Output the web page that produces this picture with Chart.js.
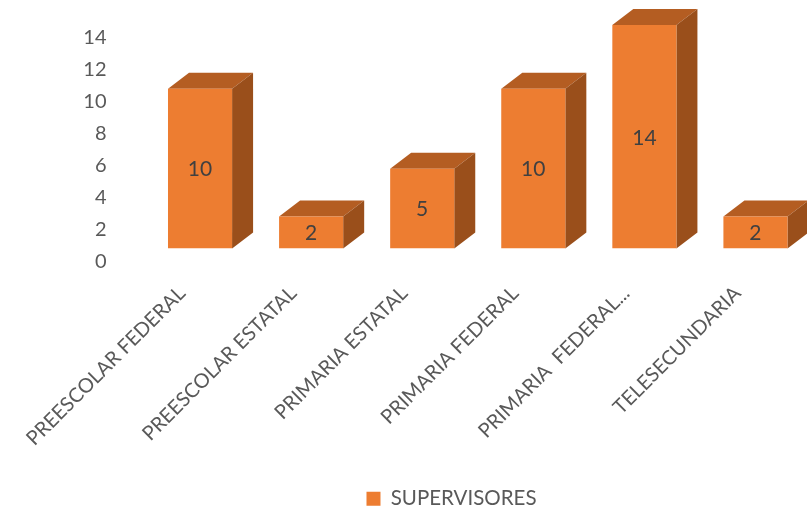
<!DOCTYPE html>
<html>
<head>
<meta charset="utf-8">
<style>html,body{margin:0;padding:0;background:#fff;overflow:hidden;width:807px;height:513px}canvas{display:block}</style>
<script src="https://cdn.jsdelivr.net/npm/chart.js@4/dist/chart.umd.min.js"></script>
</head>
<body>
<canvas id="c" width="811" height="513"></canvas>
<script>
const categories = ["PREESCOLAR FEDERAL","PREESCOLAR ESTATAL","PRIMARIA ESTATAL","PRIMARIA FEDERAL","PRIMARIA  FEDERAL...","TELESECUNDARIA"];
const supervisores = [10,2,5,10,14,2];
const seriesName = "SUPERVISORES";

const FRONT = "#ED7D31", TOP = "#B45D22", SIDE = "#9A4F1B";
const DX = 21, DY = 16;

const bars3d = {
  id: "bars3d",
  afterLayout(chart) {
    chart.legend.left += 46;
    chart.legend.right += 46;
    chart.legend.top += 6;
    chart.legend.bottom += 6;
  },
  beforeDatasetsDraw(chart) {
    const ctx = chart.ctx;
    chart.getDatasetMeta(0).data.forEach(b => {
      const l = b.x - b.width / 2, r = b.x + b.width / 2, t = b.y, bt = b.base;
      ctx.fillStyle = TOP;
      ctx.beginPath();
      ctx.moveTo(l, t); ctx.lineTo(l + DX, t - DY); ctx.lineTo(r + DX, t - DY); ctx.lineTo(r, t);
      ctx.closePath(); ctx.fill();
      ctx.fillStyle = SIDE;
      ctx.beginPath();
      ctx.moveTo(r, t); ctx.lineTo(r + DX, t - DY); ctx.lineTo(r + DX, bt - DY); ctx.lineTo(r, bt);
      ctx.closePath(); ctx.fill();
    });
  },
  afterDatasetsDraw(chart) {
    const ctx = chart.ctx;
    ctx.save();
    ctx.font = '21px Lato';
    ctx.fillStyle = "#404040";
    ctx.textAlign = "center";
    ctx.textBaseline = "middle";
    chart.getDatasetMeta(0).data.forEach((b, i) => {
      ctx.fillText(String(supervisores[i]), b.x, (b.y + b.base) / 2 + 1);
    });
    ctx.restore();
  }
};

new Chart(document.getElementById("c"), {
  type: "bar",
  data: {
    labels: categories,
    datasets: [{ label: seriesName, data: supervisores, backgroundColor: FRONT, borderWidth: 0, barPercentage: 1, categoryPercentage: 0.577 }]
  },
  options: {
    responsive: false,
    animation: false,
    layout: { autoPadding: false, padding: { top: 25, right: 0, left: 0, bottom: 0 } },
    plugins: {
      tooltip: { enabled: false },
      legend: {
        position: "bottom",
        labels: { font: { family: "Lato", size: 20.5 }, color: "#595959", boxWidth: 14, boxHeight: 14, padding: 6 }
      }
    },
    scales: {
      x: {
        grid: { display: false }, border: { display: false },
        afterFit(s) { s.height = 228; },
        ticks: { autoSkip: false, minRotation: 45, maxRotation: 45, padding: 25, labelOffset: -18, font: { family: "Lato", size: 20 }, color: "#595959" }
      },
      y: {
        min: 0, max: 14,
        grid: { display: false, tickLength: 33 }, border: { display: false },
        afterFit(s) { s.width = 144.5; },
        ticks: { stepSize: 2, autoSkip: false, padding: 5, labelOffset: 13, font: { family: "Lato", size: 20 }, color: "#595959" }
      }
    }
  },
  plugins: [bars3d]
});
</script>
</body>
</html>
